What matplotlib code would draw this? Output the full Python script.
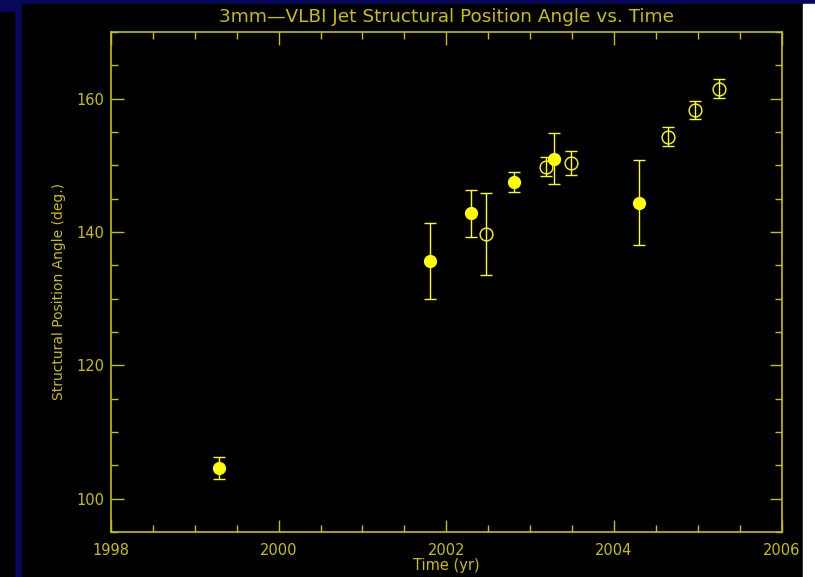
import numpy as np
import matplotlib
matplotlib.use("Agg")
import matplotlib.pyplot as plt
import matplotlib.ticker as ticker
from matplotlib.patches import Rectangle

# filled circles
t_filled = [1999.29, 2001.81, 2002.30, 2002.81, 2003.29, 2004.30]
pa_filled = [104.6, 135.7, 142.8, 147.5, 151.0, 144.4]
err_filled = [1.6, 5.7, 3.5, 1.5, 3.8, 6.4]

# open circles
t_open = [2002.48, 2003.19, 2003.49, 2004.65, 2004.97, 2005.25]
pa_open = [139.7, 149.8, 150.3, 154.3, 158.3, 161.5]
err_open = [6.1, 1.4, 1.8, 1.4, 1.4, 1.4]

fg = '#c8c000'
yel = '#ffff00'
navy = '#07075c'

W, H = 815, 577
fig = plt.figure(figsize=(W / 100, H / 100), dpi=100)
fig.patch.set_facecolor(navy)

# black panel and white strip on the right
fig.add_artist(Rectangle((22 / W, 0), (803 - 22) / W, 1 - 4 / H,
                         transform=fig.transFigure, color='black', zorder=-10))
fig.add_artist(Rectangle((0, 0), 14 / W, 1 - 12 / H,
                         transform=fig.transFigure, color='black', zorder=-10))
fig.add_artist(Rectangle((803 / W, 0), 12 / W, 1 - 4 / H,
                         transform=fig.transFigure, color='white', zorder=-10))

ax = fig.add_axes([111 / W, 1 - 532 / H, (781.5 - 111) / W, (532 - 32) / H])
ax.set_facecolor('black')

ax.errorbar(t_filled, pa_filled, yerr=err_filled, fmt='o', color=yel,
            ms=8.5, mfc=yel, mec=yel, ecolor=yel, elinewidth=1,
            capsize=4.3, capthick=1)
ax.errorbar(t_open, pa_open, yerr=err_open, fmt='o', color=yel,
            ms=9.2, mfc='none', mec=yel, mew=1, ecolor=yel, elinewidth=1,
            capsize=4.3, capthick=1)

ax.set_xlim(1998, 2006)
ax.set_ylim(95, 170)
ax.xaxis.set_major_locator(ticker.MultipleLocator(2))
ax.xaxis.set_minor_locator(ticker.MultipleLocator(0.5))
ax.yaxis.set_major_locator(ticker.MultipleLocator(20))
ax.yaxis.set_minor_locator(ticker.MultipleLocator(5))
ax.tick_params(which='both', direction='in', top=True, right=True,
               colors=fg, width=1, labelsize=10.5)
ax.tick_params(which='major', length=9)
ax.tick_params(which='minor', length=5)
ax.tick_params(axis='x', pad=8)
ax.tick_params(axis='y', pad=5)
for s in ax.spines.values():
    s.set_color(fg)
    s.set_linewidth(1.2)

ax.set_title('3mm\u2014VLBI Jet Structural Position Angle vs. Time',
             color=fg, fontsize=13.3, pad=7)
ax.set_xlabel('Time (yr)', color=fg, fontsize=10.5, labelpad=0)
ax.set_ylabel('Structural Position Angle (deg.)', color=fg, fontsize=10)
ax.yaxis.set_label_coords(-0.067, 0.48)

fig.savefig('out.png', dpi=100, facecolor=fig.get_facecolor())
